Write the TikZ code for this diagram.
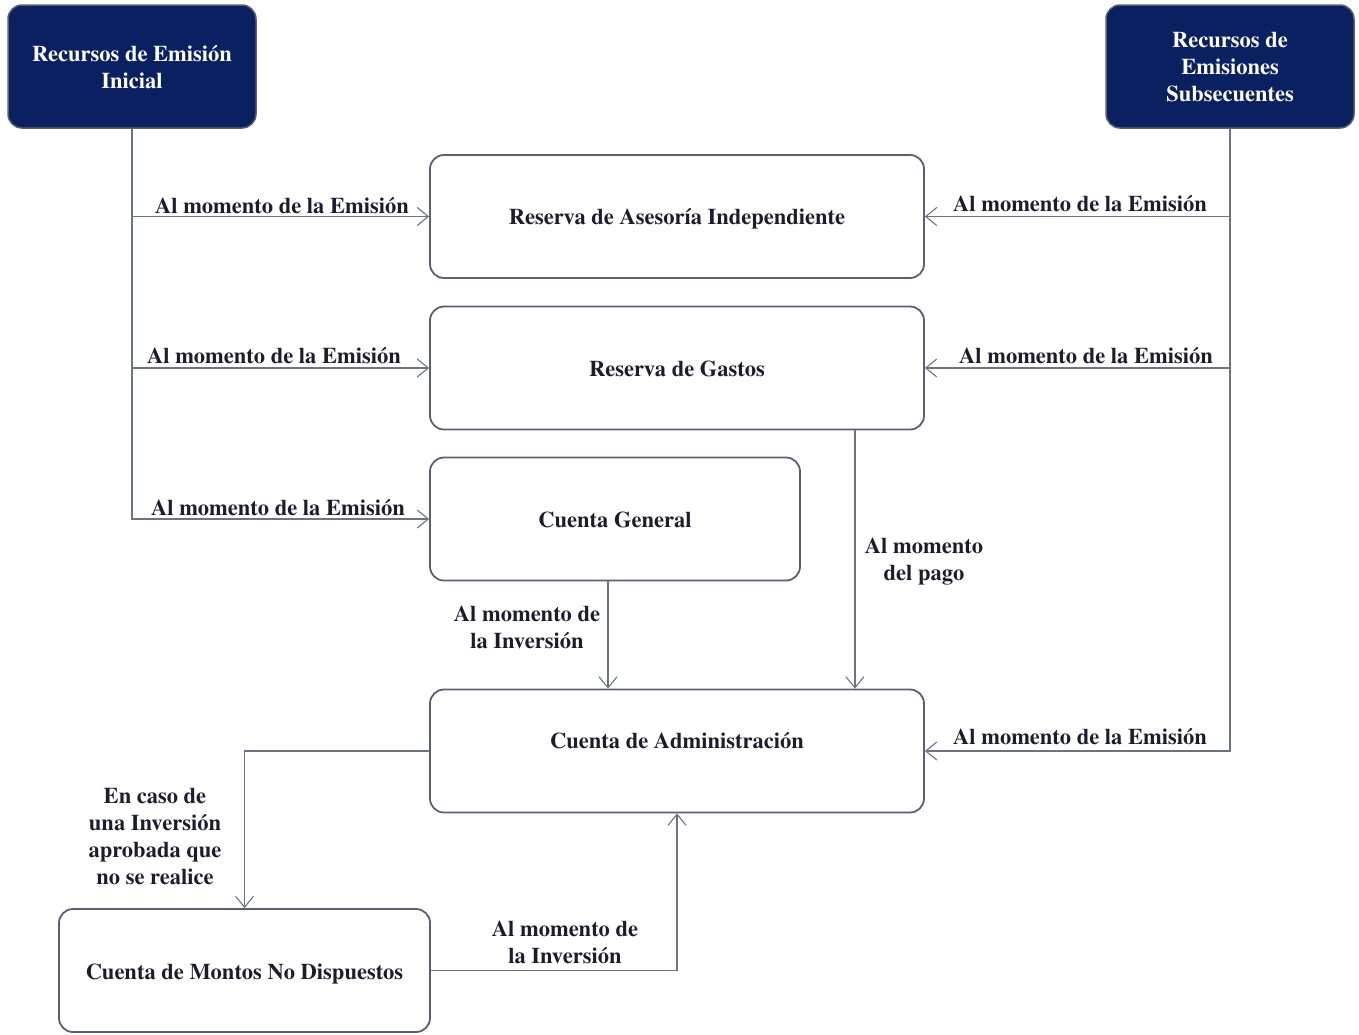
\documentclass[tikz,border=0pt]{standalone}
\usepackage[T1]{fontenc}
\usepackage{times}
\usetikzlibrary{arrows.meta,calc}
\definecolor{navy}{RGB}{10,32,96}
\definecolor{txt}{RGB}{28,28,45}
\definecolor{linec}{RGB}{110,115,130}
\definecolor{boxc}{RGB}{90,96,112}
\begin{document}
\begin{tikzpicture}[x=1pt,y=-1pt,
  font=\fontsize{22.5}{27}\selectfont\bfseries,
  srcbox/.style={draw=boxc, line width=1.5pt, fill=navy, rounded corners=14pt, text=white, align=center, minimum width=248pt, minimum height=123pt, inner sep=0pt},
  acct/.style={draw=boxc, line width=1.8pt, fill=white, rounded corners=14pt, text=txt, align=center, minimum height=123pt, inner sep=0pt},
  conn/.style={draw=linec, line width=1.2pt, -{Straight Barb[length=11pt,width=18pt,line width=1.1pt]}},
  lbl/.style={text=txt, align=center, inner sep=0pt}]
\useasboundingbox (0,0) rectangle (1359,1034);
% nodes
\node[srcbox] (ini) at (132,66.5) {Recursos de Emisión\\Inicial};
\node[srcbox] (sub) at (1230,66.5) {Recursos de\\Emisiones\\Subsecuentes};
\node[acct, minimum width=494pt, label={[lbl,yshift=-2.5pt]center:Reserva de Asesoría Independiente}] (rai) at (677,216.5) {};
\node[acct, minimum width=494pt, label={[lbl,yshift=-1pt]center:Reserva de Gastos}] (rg) at (677,368) {};
\node[acct, minimum width=370pt, label={[lbl,yshift=-1pt]center:Cuenta General}] (cg) at (615,519) {};
\node[acct, minimum width=494pt, label={[lbl,yshift=10.5pt]center:Cuenta de Administración}] (adm) at (677,751) {};
\node[acct, minimum width=371pt, label={[lbl,yshift=-3.5pt]center:Cuenta de Montos No Dispuestos}] (mon) at (244.5,970.5) {};
% left trunk
\draw[conn] (ini.south) |- (rai.west);
\draw[conn] (ini.south) |- (rg.west);
\draw[conn] (ini.south) |- (cg.west);
% right trunk
\draw[conn] (sub.south) |- (rai.east);
\draw[conn] (sub.south) |- (rg.east);
\draw[conn] (sub.south) |- (adm.east);
% verticals
\draw[conn] ([xshift=-70pt]rg.south east) -- ([xshift=-70pt]adm.north east);
\draw[conn] ([xshift=-7pt]cg.south) -- ([xshift=-7pt]cg.south |- adm.north);
\draw[conn] (adm.west) -| (mon.north);
\draw[conn] (mon.east) -| (adm.south);
% labels
\node[lbl] (l1) at (282,205) {Al momento de la Emisión};
\node[lbl] (l2) at (274,355) {Al momento de la Emisión};
\node[lbl] (l3) at (278,507) {Al momento de la Emisión};
\node[lbl] (r1) at (1080,203) {Al momento de la Emisión};
\node[lbl] (r2) at (1086,355) {Al momento de la Emisión};
\node[lbl] (r3) at (1080,736) {Al momento de la Emisión};
\node[lbl] (pago) at (924,562) {Al momento\\del pago};
\node[lbl] (inv1) at (527,627) {Al momento de\\la Inversión};
\node[lbl] (caso) at (155,836) {En caso de\\una Inversión\\aprobada que\\no se realice};
\node[lbl] (inv2) at (565,942) {Al momento de\\la Inversión};
\end{tikzpicture}
\end{document}
